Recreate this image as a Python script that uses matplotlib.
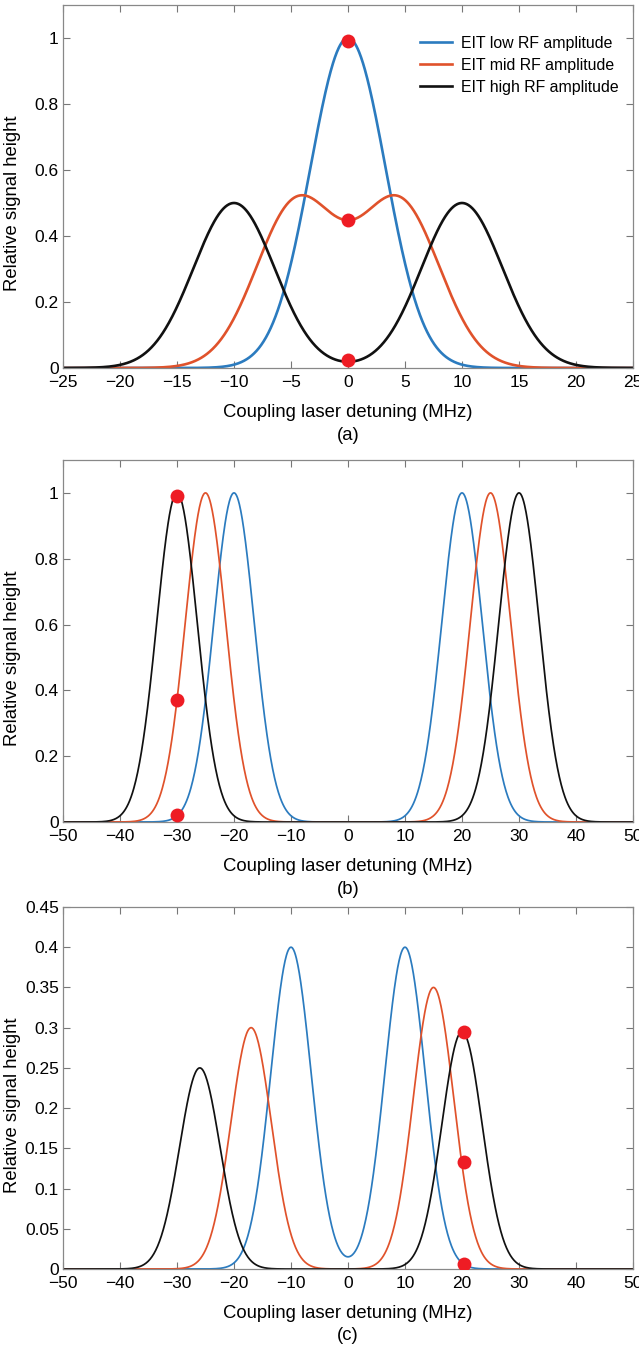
import numpy as np
import matplotlib
matplotlib.use("Agg")
import matplotlib.pyplot as plt

plt.rcParams["font.family"] = ["Liberation Sans", "DejaVu Sans"]

BLUE, RED, BLACK = "#2b7bbf", "#e0522b", "#111111"
DOT = "#ee1c24"

labels = ["EIT low RF amplitude", "EIT mid RF amplitude", "EIT high RF amplitude"]

# panel (a): peak centres / heights per trace, common width
a_centers = [[0.0], [-4.5, 4.5], [-10.0, 10.0]]
a_heights = [[1.0], [0.5, 0.5], [0.5, 0.5]]
a_sigma = [3.3, 3.55, 3.55]
a_dot_x = [0, 0, 0]
a_dot_y = [0.99, 0.45, 0.025]

# panel (b)
b_centers = [[-20.0, 20.0], [-25.0, 25.0], [-30.0, 30.0]]
b_heights = [[1.0, 1.0], [1.0, 1.0], [1.0, 1.0]]
b_sigma = [3.55, 3.55, 3.55]
b_dot_x = [-30, -30, -30]
b_dot_y = [0.99, 0.37, 0.02]

# panel (c)
c_centers = [[-10.0, 10.0], [-17.0, 15.0], [-26.0, 20.0]]
c_heights = [[0.4, 0.4], [0.3, 0.35], [0.25, 0.295]]
c_sigma = [3.55, 3.55, 3.55]
c_dot_x = [20.3, 20.3, 20.3]
c_dot_y = [0.295, 0.133, 0.006]


def trace(x, centers, heights, s):
    y = np.zeros_like(x)
    for c, h in zip(centers, heights):
        y += h * np.exp(-(x - c) ** 2 / (2 * s * s))
    return y


fig = plt.figure(figsize=(6.39, 13.49), dpi=100)
L, W = 63 / 639, 570 / 639
H = 1349.0
panels = [
    (5, 368, (-25, 25), np.arange(-25, 26, 5), (0, 1.1), [0, 0.2, 0.4, 0.6, 0.8, 1],
     a_centers, a_heights, a_sigma, a_dot_x, a_dot_y, 1.9, "(a)"),
    (460, 822, (-50, 50), np.arange(-50, 51, 10), (0, 1.1), [0, 0.2, 0.4, 0.6, 0.8, 1],
     b_centers, b_heights, b_sigma, b_dot_x, b_dot_y, 1.25, "(b)"),
    (907, 1269, (-50, 50), np.arange(-50, 51, 10), (0, 0.45), np.arange(0, 0.451, 0.05),
     c_centers, c_heights, c_sigma, c_dot_x, c_dot_y, 1.25, "(c)"),
]

for top, bot, xl, xt, yl, yt, cens, hts, sig, dx, dy, lw, tag in panels:
    ax = fig.add_axes([L, 1 - bot / H, W, (bot - top) / H])
    x = np.linspace(xl[0], xl[1], 1200)
    for cs, hs, s, col, lab in zip(cens, hts, sig, [BLUE, RED, BLACK], labels):
        ax.plot(x, trace(x, cs, hs, s), color=col, lw=lw, label=lab)
    ax.plot(dx, dy, "o", color=DOT, ms=10, mec="none", zorder=5)
    ax.set_xlim(xl)
    ax.set_ylim(yl)
    ax.set_xticks(xt)
    ax.set_yticks(yt)
    ax.set_yticklabels(["%g" % v for v in yt])
    ax.tick_params(direction="in", top=True, right=True, length=5, width=0.8,
                   color="#777777", labelsize=12.5, pad=3)
    ax.tick_params(axis="x", pad=5)
    for sp in ax.spines.values():
        sp.set_color("#888888")
        sp.set_linewidth(0.9)
    ax.set_xlabel("Coupling laser detuning (MHz)", fontsize=13.3, labelpad=10)
    ax.set_ylabel("Relative signal height", fontsize=13.3)
    ax.yaxis.set_label_coords(-0.074, 0.453)
    fig.text(L + W / 2, 1 - (bot + 67) / H, tag, ha="center", va="center", fontsize=13.3)
    if tag == "(a)":
        ax.legend(loc="upper right", bbox_to_anchor=(1.0, 0.955), frameon=False,
                  fontsize=11.4, handlelength=2.0, handletextpad=0.6, labelspacing=0.45)

fig.savefig("out.png", dpi=100)
